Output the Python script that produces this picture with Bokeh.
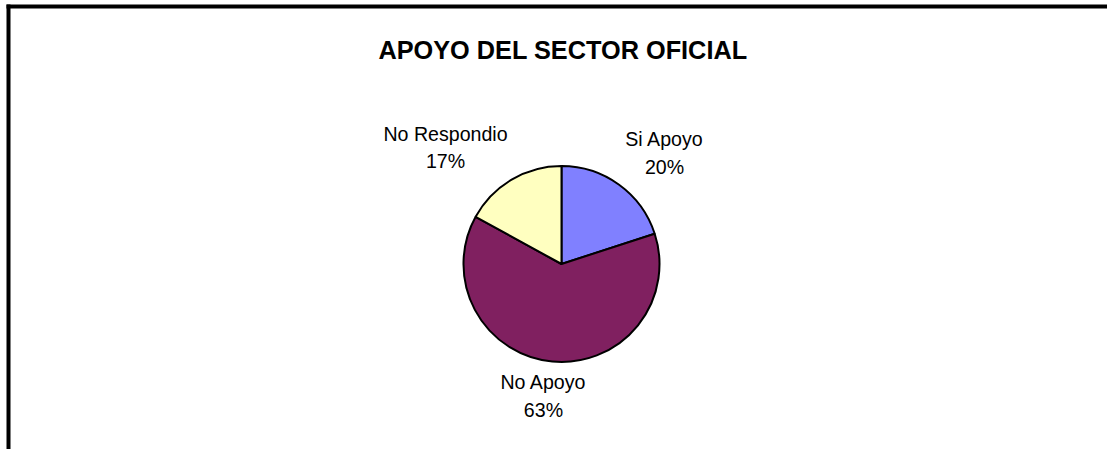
import math
from bokeh.plotting import figure
from bokeh.models import ColumnDataSource, Range1d
from bokeh.core.properties import value
from bokeh.embed import file_html
from bokeh.resources import INLINE

# ---- data ----
title_text = "APOYO DEL SECTOR OFICIAL"
categories = ["Si Apoyo", "No Apoyo", "No Respondio"]
percentages = [20, 63, 17]
colors = ["#8080FF", "#802060", "#FFFFC0"]

# ---- layout (picture pixel coordinates, y negated) ----
OX, OY = 0, 0
W, H = 1107, 449
CX, CY = 561.0, -263.5  # pie centre
R = 98.0
FONT = "Liberation Sans"
TEXT_SHIFT = 8.0        # baseline correction for rendered text (px, upward)

p = figure(width=W, height=H, output_backend="svg", toolbar_location=None,
           x_range=Range1d(OX, OX + W), y_range=Range1d(-(OY + H), -OY),
           min_border=0, outline_line_color=None,
           background_fill_color="white", border_fill_color="white")
p.axis.visible = False
p.grid.visible = False

# frame lines (top and left edges of the chart area border)
p.quad(left=[6], right=[10], top=[-4], bottom=[-470], fill_color="black", line_color=None)
p.quad(left=[6], right=[1130], top=[-4], bottom=[-8], fill_color="black", line_color=None)

# wedges, clockwise from 12 o'clock
total = float(sum(percentages))
starts, ends, mids = [], [], []
cum = 0.0
for v in percentages:
    a0 = math.pi / 2 - 2 * math.pi * cum / total
    cum += v
    a1 = math.pi / 2 - 2 * math.pi * cum / total
    starts.append(a0)
    ends.append(a1)
    mids.append((a0 + a1) / 2)

src = ColumnDataSource(dict(x=[CX] * len(percentages), y=[CY] * len(percentages),
                            start=starts, end=ends, color=colors))
p.wedge(x="x", y="y", radius=R, start_angle="start", end_angle="end",
        direction="clock", fill_color="color", line_color="black",
        line_width=2, source=src)

# labels placed beside each slice's outer edge (pixel nudges)
nudges = [(45.4, 23.5), (-8.8, -42.3), (-66.1, 24.1)]
lx, ly = [], []
for m, (dx, dy) in zip(mids, nudges):
    lx.append(CX + R * math.cos(m) + dx)
    ly.append(CY + R * math.sin(m) + dy + TEXT_SHIFT)

HALF = 13.75
lab = ColumnDataSource(dict(
    x=lx,
    yn=[y + HALF for y in ly],
    yp=[y - HALF for y in ly],
    name=categories,
    pct=[f"{v}%" for v in percentages],
))
common = dict(text_font=value(FONT), text_font_size="19.6px", text_color="black",
              text_align="center", text_baseline="alphabetic")
p.text(x="x", y="yn", text="name", source=lab, **common)
p.text(x="x", y="yp", text="pct", source=lab, **common)

# title
p.text(x=[562.5], y=[-57 + TEXT_SHIFT], text=[title_text], text_font=value(FONT),
       text_font_size="25.3px", text_font_style="bold", text_color="black",
       text_align="center", text_baseline="alphabetic")

open("out.html", "w").write(file_html(p, INLINE))
